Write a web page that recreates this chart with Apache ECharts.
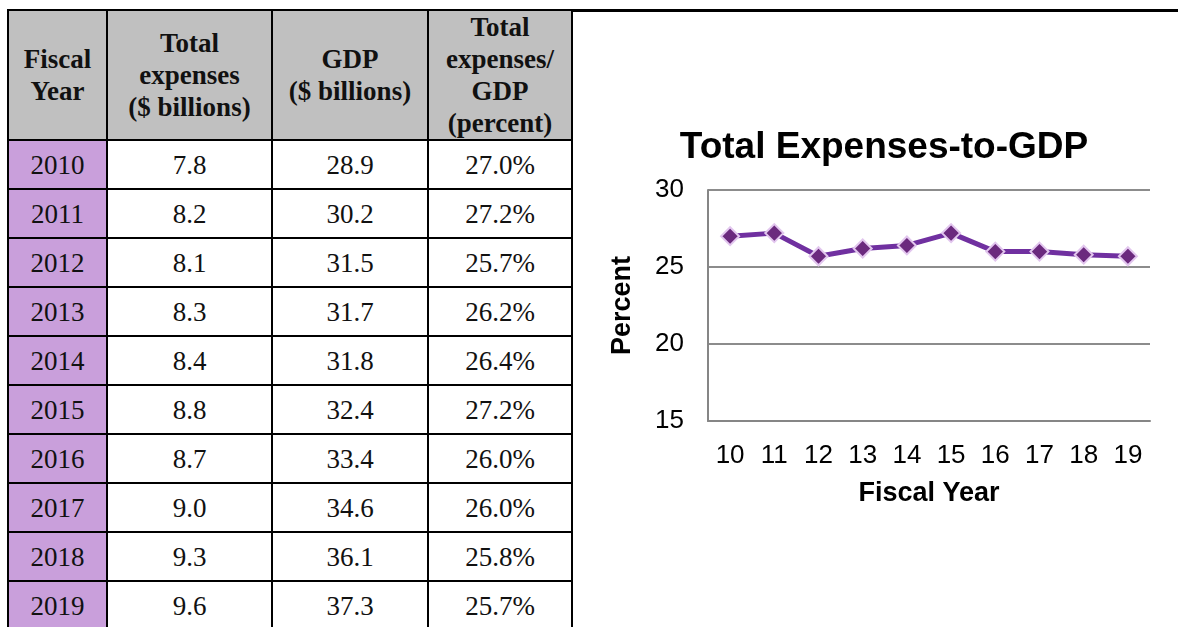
<!DOCTYPE html>
<html>
<head>
<meta charset="utf-8">
<script src="https://cdn.jsdelivr.net/npm/echarts@6/dist/echarts.min.js"></script>
<style>
  body { margin: 0; background: #fff; width: 1178px; height: 627px; overflow: hidden; position: relative; }
  .top-rule { position: absolute; left: 7px; top: 9px; width: 1171px; height: 3px; background: #000; }
  table {
    position: absolute; left: 7px; top: 9px;
    border-collapse: collapse;
    font-family: "Liberation Serif", "Times New Roman", serif;
    color: #111;
  }
  th, td { border: 2px solid #000; text-align: center; padding: 0; }
  th { background: #c0c0c0; font-weight: bold; font-size: 27px; line-height: 32px; height: 127px; }
  td { font-size: 27px; height: 45px; background: #fff; padding-top: 2px; }
  td.year { background: #c99fdb; }
  #chart { position: absolute; left: 580px; top: 0; width: 598px; height: 627px; }
</style>
</head>
<body>
<div class="top-rule"></div>
<table id="tbl"></table>
<div id="chart"></div>
<script>
const years = ["2010", "2011", "2012", "2013", "2014", "2015", "2016", "2017", "2018", "2019"];
const expenses = ["7.8", "8.2", "8.1", "8.3", "8.4", "8.8", "8.7", "9.0", "9.3", "9.6"];
const gdp = ["28.9", "30.2", "31.5", "31.7", "31.8", "32.4", "33.4", "34.6", "36.1", "37.3"];
const ratio = [27.0, 27.2, 25.7, 26.2, 26.4, 27.2, 26.0, 26.0, 25.8, 25.7];
const headers = ["Fiscal<br>Year", "Total<br>expenses<br>($ billions)", "GDP<br>($ billions)", "Total<br>expenses/<br>GDP<br>(percent)"];
const colWidths = [97, 163, 154, 142];
const xLabels = ["10", "11", "12", "13", "14", "15", "16", "17", "18", "19"];

// table
let html = "<tr>";
headers.forEach((h, i) => {
  html += `<th style="width:${colWidths[i]}px">${h}</th>`;
});
html += "</tr>";
years.forEach((y, i) => {
  html += `<tr><td class="year">${y}</td><td>${expenses[i]}</td><td>${gdp[i]}</td><td>${ratio[i].toFixed(1)}%</td></tr>`;
});
document.getElementById("tbl").innerHTML = html;

// chart
const font = "Liberation Sans, Arial";
const chart = echarts.init(document.getElementById("chart"));
chart.setOption({
  animation: false,
  title: {
    text: "Total Expenses-to-GDP",
    left: 299,
    top: 124,
    textAlign: "center",
    textStyle: { fontFamily: font, fontSize: 37, fontWeight: "bold", color: "#000" },
  },
  grid: { left: 128, top: 190, width: 442, height: 231 },
  xAxis: {
    type: "category",
    data: xLabels,
    boundaryGap: true,
    name: "Fiscal Year",
    nameLocation: "middle",
    nameGap: 59,
    nameTextStyle: { fontFamily: font, fontSize: 27, fontWeight: "bold", color: "#000" },
    axisLine: { lineStyle: { color: "#868686", width: 2 } },
    axisTick: { show: false },
    axisLabel: { fontFamily: font, fontSize: 26, color: "#000", margin: 22, interval: 0 },
  },
  yAxis: {
    type: "value",
    min: 15,
    max: 30,
    interval: 5,
    name: "Percent",
    nameLocation: "middle",
    nameGap: 72,
    nameRotate: 90,
    nameTextStyle: { fontFamily: font, fontSize: 27, fontWeight: "bold", color: "#000" },
    axisLine: { show: true, lineStyle: { color: "#868686", width: 2 } },
    axisTick: { show: false },
    axisLabel: { fontFamily: font, fontSize: 26, color: "#000", margin: 24 },
    splitLine: { lineStyle: { color: "#8c8c8c", width: 2 } },
  },
  series: [
    {
      type: "line",
      data: ratio,
      symbol: "diamond",
      symbolSize: 18,
      lineStyle: { color: "#7030a0", width: 5 },
      itemStyle: { color: "#6b2a7e", borderColor: "#e2c6ee", borderWidth: 2 },
    },
  ],
});
</script>
</body>
</html>
